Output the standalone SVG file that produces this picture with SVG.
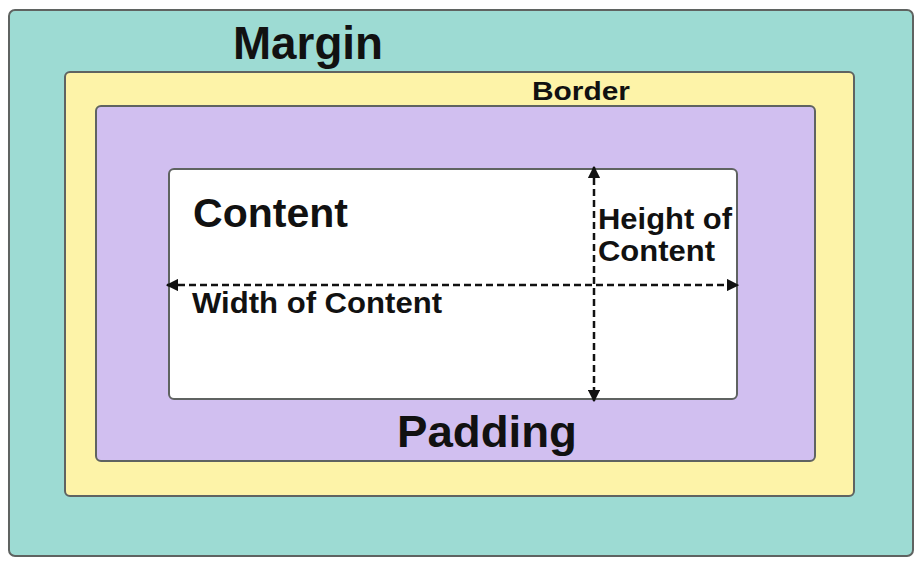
<svg xmlns="http://www.w3.org/2000/svg" width="924" height="568" viewBox="0 0 924 568">
  <style>
    .box { stroke: #5f6361; stroke-width: 2; }
    .lbl { font-family: "Liberation Sans", Arial, sans-serif; font-weight: bold; fill: #111; }
    .dim { stroke: #111; stroke-width: 2.5; stroke-dasharray: 7 4; fill: none; }
  </style>
  <defs>
    <marker id="arrow" viewBox="0 0 10 10" refX="9" refY="5" markerWidth="5" markerHeight="5" orient="auto-start-reverse" markerUnits="strokeWidth">
      <path d="M0,0 L10,5 L0,10 Z" fill="#111"/>
    </marker>
  </defs>
  <rect width="924" height="568" fill="#ffffff"/>

  <g id="margin">
    <rect class="box" x="9" y="10" width="904" height="546" rx="6" fill="#9ddbd3"/>
    <text class="lbl" x="233" y="59" font-size="47" textLength="150" lengthAdjust="spacingAndGlyphs">Margin</text>
  </g>

  <g id="border">
    <rect class="box" x="65" y="72" width="789" height="424" rx="5" fill="#fdf3a8"/>
    <text class="lbl" x="532" y="100" font-size="25" textLength="98" lengthAdjust="spacingAndGlyphs">Border</text>
  </g>

  <g id="padding">
    <rect class="box" x="96" y="106" width="719" height="355" rx="5" fill="#d1bff0"/>
    <text class="lbl" x="397" y="447" font-size="44" textLength="180" lengthAdjust="spacingAndGlyphs">Padding</text>
  </g>

  <g id="content">
    <rect class="box" x="169" y="169" width="568" height="230" rx="5" fill="#ffffff"/>
    <text class="lbl" x="193" y="227" font-size="41" textLength="155" lengthAdjust="spacingAndGlyphs">Content</text>
    <text class="lbl" x="598" y="229" font-size="29" textLength="134" lengthAdjust="spacingAndGlyphs">Height of</text>
    <text class="lbl" x="598" y="261" font-size="29" textLength="117" lengthAdjust="spacingAndGlyphs">Content</text>
    <text class="lbl" x="192" y="313" font-size="29" textLength="250" lengthAdjust="spacingAndGlyphs">Width of Content</text>
  </g>

  <g id="connectors">
    <line class="dim" x1="167" y1="285" x2="738" y2="285" marker-start="url(#arrow)" marker-end="url(#arrow)"/>
    <line class="dim" x1="594" y1="167" x2="594" y2="401" marker-start="url(#arrow)" marker-end="url(#arrow)"/>
  </g>
</svg>
